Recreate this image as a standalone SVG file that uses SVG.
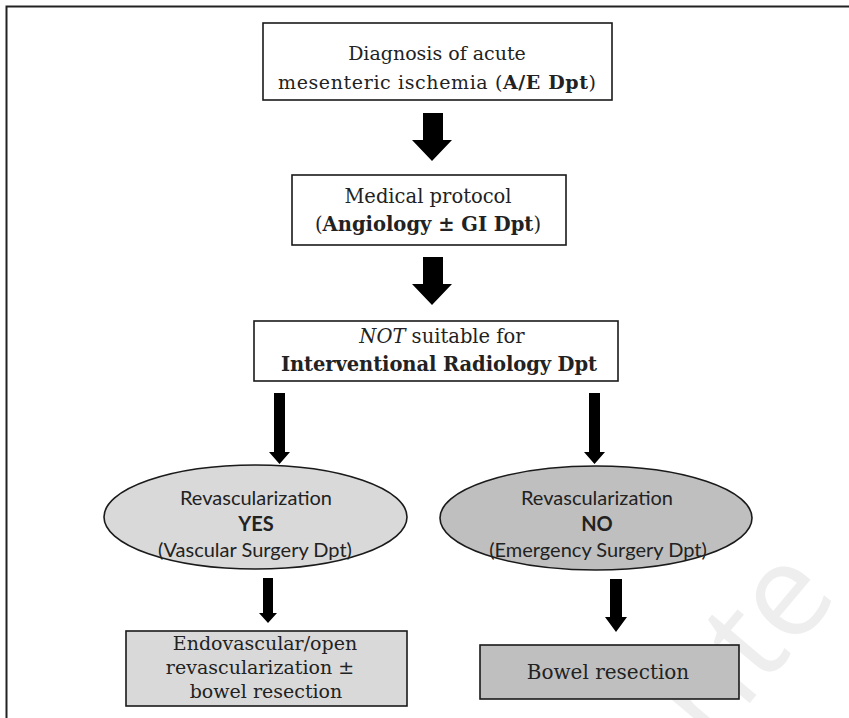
<svg xmlns="http://www.w3.org/2000/svg" width="849" height="718" viewBox="0 0 849 718">
<style>
.box{stroke:#1a1a1a;stroke-width:1.6}
.serif{font-family:"DejaVu Serif","Liberation Serif",serif;fill:#222;text-anchor:middle}
.sans{font-family:Lato,"Open Sans","Liberation Sans",sans-serif;fill:#222;text-anchor:middle;font-size:20px}
.arr{fill:#000}
</style>
<rect width="849" height="718" fill="#fff"/>
<text x="0" y="0" transform="translate(712 748) rotate(-50)" font-family="Open Sans, Liberation Sans, sans-serif" font-size="130" fill="#eeeeee">nte</text>
<path d="M6.5 718 V6.5 H849" fill="none" stroke="#222" stroke-width="2"/>
<g id="connectors">
<path class="arr" d="M423 113 H443 V140 H452 L432 161 L412 140 H423 Z"/>
<path class="arr" d="M423 257 H443 V284 H452 L432 305 L412 284 H423 Z"/>
<path class="arr" d="M274 393 H285 V452 H290 L279.5 464 L269 452 H274 Z"/>
<path class="arr" d="M589 393 H600 V452 H605 L594.5 464 L584 452 H589 Z"/>
<path class="arr" d="M263 578 H273 V613 H277 L268 623 L259 613 H263 Z"/>
<path class="arr" d="M610 579 H622 V617 H627 L616 632 L605 617 H610 Z"/>
</g>
<g id="n1">
<rect class="box" x="263" y="23" width="349" height="77" fill="#fff"/>
<text class="serif" x="437" y="60" font-size="19">Diagnosis of acute</text>
<text class="serif" x="437" y="89" font-size="19" textLength="318">mesenteric ischemia (<tspan font-weight="bold">A/E Dpt</tspan>)</text>
</g>
<g id="n2">
<rect class="box" x="292" y="175" width="274" height="70" fill="#fff"/>
<text class="serif" x="428" y="203" font-size="19.5">Medical protocol</text>
<text class="serif" x="428" y="231" font-size="19.5">(<tspan font-weight="bold">Angiology ± GI Dpt</tspan>)</text>
</g>
<g id="n3">
<rect class="box" x="254" y="321" width="364" height="60" fill="#fff"/>
<text class="serif" x="442" y="343" font-size="19.5"><tspan font-style="italic">NOT</tspan> suitable for</text>
<text class="serif" x="439" y="371" font-size="19.5" font-weight="bold" textLength="316">Interventional Radiology Dpt</text>
</g>
<g id="n4">
<ellipse class="box" cx="255.5" cy="517" rx="151.5" ry="52" fill="#d9d9d9"/>
<text class="sans" x="256" y="505">Revascularization</text>
<text class="sans" x="256" y="531" font-weight="bold">YES</text>
<text class="sans" x="255" y="557">(Vascular Surgery Dpt)</text>
</g>
<g id="n5">
<ellipse class="box" cx="596" cy="518" rx="156" ry="52" fill="#bfbfbf"/>
<text class="sans" x="597" y="505">Revascularization</text>
<text class="sans" x="597" y="531" font-weight="bold">NO</text>
<text class="sans" x="598" y="557">(Emergency Surgery Dpt)</text>
</g>
<g id="n6">
<rect class="box" x="126" y="631" width="281" height="75" fill="#d9d9d9"/>
<text class="serif" x="265" y="650" font-size="19">Endovascular/open</text>
<text class="serif" x="260" y="674" font-size="19">revascularization ±</text>
<text class="serif" x="266" y="698" font-size="19">bowel resection</text>
</g>
<g id="n7">
<rect class="box" x="480" y="645" width="259" height="54" fill="#bfbfbf"/>
<text class="serif" x="608" y="679" font-size="20">Bowel resection</text>
</g>
</svg>
